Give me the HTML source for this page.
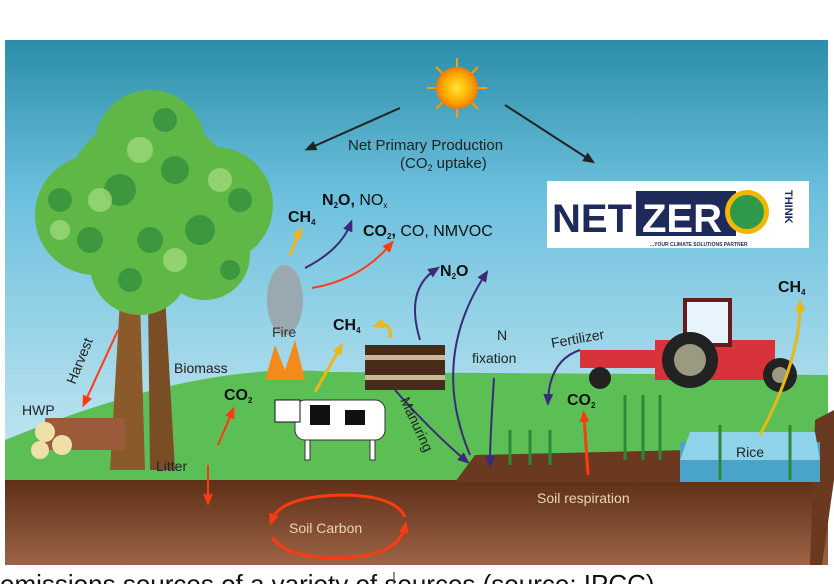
<!DOCTYPE html>
<html><head><meta charset="utf-8"><style>
html,body{margin:0;padding:0;background:#fff;width:834px;height:584px;overflow:hidden}
svg{display:block}
text{font-family:"Liberation Sans",sans-serif}
</style></head><body>
<svg width="834" height="584" viewBox="0 0 834 584" xmlns="http://www.w3.org/2000/svg">
<defs>
<linearGradient id="sky" x1="0" y1="0" x2="0" y2="1">
<stop offset="0" stop-color="#2b8ea8"/><stop offset="0.35" stop-color="#6cc0dd"/><stop offset="1" stop-color="#c9e9f2"/></linearGradient>
<linearGradient id="soil" x1="0" y1="0" x2="0" y2="1">
<stop offset="0" stop-color="#5e2f17"/><stop offset="1" stop-color="#9c6446"/></linearGradient>
<radialGradient id="sun"><stop offset="0" stop-color="#ffe23a"/><stop offset="0.6" stop-color="#ffb000"/><stop offset="1" stop-color="#f07a00"/></radialGradient>
<marker id="ak" markerUnits="userSpaceOnUse" markerWidth="12" markerHeight="12" refX="6" refY="6" orient="auto"><path d="M0,1 L12,6 L0,11 z" fill="#222"/></marker>
<marker id="ar" markerUnits="userSpaceOnUse" markerWidth="12" markerHeight="12" refX="6" refY="6" orient="auto"><path d="M0,1 L12,6 L0,11 z" fill="#ff3a12"/></marker>
<marker id="ay" markerUnits="userSpaceOnUse" markerWidth="12" markerHeight="12" refX="6" refY="6" orient="auto"><path d="M0,1 L12,6 L0,11 z" fill="#e8b818"/></marker>
<marker id="ap" markerUnits="userSpaceOnUse" markerWidth="12" markerHeight="12" refX="6" refY="6" orient="auto"><path d="M0,1 L12,6 L0,11 z" fill="#3b2a7a"/></marker>
</defs>
<rect x="5" y="40" width="823" height="440" fill="url(#sky)"/>
<path d="M5,440 Q200,360 330,372 L828,375 L828,482 L5,482 z" fill="#5cbf55"/>
<path d="M5,480 L828,480 L828,565 L5,565 z" fill="url(#soil)"/>
<path d="M815,420 L834,410 L834,480 L822,565 L810,565 z" fill="#6a3a20"/>
<path d="M455,482 L475,455 L690,450 L690,482 z" fill="#6b3820"/>
<path d="M680,442 L820,442 L820,482 L680,482 z" fill="#4aa3c8"/>
<path d="M690,432 L815,432 L820,460 L680,460 z" fill="#8fd3ea"/>
<g stroke="#ff9a00" stroke-width="2">
<line x1="457" y1="58" x2="457" y2="118"/><line x1="427" y1="88" x2="487" y2="88"/><line x1="436" y1="67" x2="478" y2="109"/><line x1="478" y1="67" x2="436" y2="109"/>
</g>
<circle cx="457" cy="88" r="21" fill="url(#sun)"/>
<path d="M120,300 L140,300 L145,470 L110,470 z" fill="#8a5a2b"/>
<path d="M148,295 L165,295 L175,470 L150,470 z" fill="#7a4e24"/>
<g fill="#5fb846">
<circle cx="150" cy="200" r="85"/><circle cx="95" cy="215" r="60"/><circle cx="215" cy="205" r="58"/><circle cx="150" cy="145" r="55"/><circle cx="140" cy="265" r="50"/><circle cx="205" cy="255" r="45"/>
</g>
<g fill="#2e8a3d" opacity="0.7">
<circle cx="120" cy="190" r="16"/><circle cx="175" cy="170" r="14"/><circle cx="200" cy="230" r="15"/><circle cx="150" cy="240" r="13"/><circle cx="90" cy="240" r="13"/><circle cx="240" cy="200" r="12"/><circle cx="165" cy="120" r="12"/><circle cx="130" cy="280" r="12"/><circle cx="60" cy="200" r="12"/><circle cx="230" cy="270" r="10"/>
</g>
<g fill="#9dd97a" opacity="0.8">
<circle cx="140" cy="150" r="13"/><circle cx="100" cy="200" r="12"/><circle cx="220" cy="180" r="12"/><circle cx="175" cy="260" r="12"/><circle cx="60" cy="230" r="10"/>
</g>
<rect x="45" y="418" width="80" height="32" fill="#9b5a3a"/>
<circle cx="45" cy="432" r="10" fill="#f0e0a8"/><circle cx="62" cy="445" r="10" fill="#f0e0a8"/><circle cx="40" cy="450" r="9" fill="#f0e0a8"/>
<ellipse cx="285" cy="300" rx="18" ry="35" fill="#9aa8b0"/>
<path d="M265,380 L275,345 L285,370 L295,340 L305,380 z" fill="#f28a1c"/>
<rect x="365" y="345" width="80" height="45" fill="#4a2a1a"/>
<rect x="365" y="355" width="80" height="5" fill="#c8b898"/><rect x="365" y="375" width="80" height="5" fill="#c8b898"/>
<rect x="295" y="400" width="90" height="40" rx="10" fill="#fff" stroke="#333"/>
<path d="M310,405 h20 v20 h-20z M345,410 h20 v15 h-20z" fill="#111"/>
<rect x="275" y="400" width="25" height="22" fill="#fff" stroke="#111"/>
<rect x="305" y="440" width="5" height="20" fill="#fff" stroke="#333"/><rect x="370" y="440" width="5" height="20" fill="#fff" stroke="#333"/>
<rect x="655" y="340" width="120" height="40" fill="#d8323b"/>
<rect x="685" y="300" width="45" height="45" fill="#e8f4fb" stroke="#6a1a1a" stroke-width="4"/>
<rect x="580" y="350" width="75" height="18" fill="#d8323b"/>
<circle cx="690" cy="360" r="28" fill="#222"/><circle cx="690" cy="360" r="16" fill="#9a9a80"/>
<circle cx="780" cy="375" r="17" fill="#222"/><circle cx="780" cy="375" r="8" fill="#9a9a80"/>
<circle cx="600" cy="378" r="11" fill="#222"/>
<g stroke="#2a8a3a" stroke-width="3">
<line x1="510" y1="430" x2="510" y2="465"/><line x1="530" y1="430" x2="530" y2="465"/><line x1="550" y1="430" x2="550" y2="465"/>
<line x1="625" y1="395" x2="625" y2="460"/><line x1="643" y1="395" x2="643" y2="460"/><line x1="660" y1="395" x2="660" y2="460"/>
<line x1="720" y1="425" x2="720" y2="480"/><line x1="790" y1="425" x2="790" y2="480"/>
</g>
<line x1="400" y1="108" x2="310" y2="148" stroke="#222" stroke-width="2" marker-end="url(#ak)"/>
<line x1="505" y1="105" x2="590" y2="160" stroke="#222" stroke-width="2" marker-end="url(#ak)"/>
<line x1="290" y1="255" x2="299" y2="232" stroke="#e8b818" stroke-width="3" marker-end="url(#ay)"/>
<path d="M305,268 Q340,250 350,225" fill="none" stroke="#3b2a7a" stroke-width="2" marker-end="url(#ap)"/>
<path d="M312,288 Q360,280 390,245" fill="none" stroke="#ff3a12" stroke-width="2" marker-end="url(#ar)"/>
<line x1="315" y1="392" x2="340" y2="348" stroke="#e8b818" stroke-width="3" marker-end="url(#ay)"/>
<path d="M390,338 Q392,322 378,325" fill="none" stroke="#e8b818" stroke-width="3" marker-end="url(#ay)"/>
<path d="M420,340 Q405,290 435,270" fill="none" stroke="#3b2a7a" stroke-width="2" marker-end="url(#ap)"/>
<path d="M470,455 Q430,360 485,275" fill="none" stroke="#3b2a7a" stroke-width="2" marker-end="url(#ap)"/>
<path d="M494,378 Q490,440 490,462" fill="none" stroke="#3b2a7a" stroke-width="2" marker-end="url(#ap)"/>
<path d="M395,390 Q430,430 465,460" fill="none" stroke="#3b2a7a" stroke-width="2" marker-end="url(#ap)"/>
<path d="M580,350 Q550,360 548,400" fill="none" stroke="#3b2a7a" stroke-width="2" marker-end="url(#ap)"/>
<line x1="588" y1="475" x2="584" y2="416" stroke="#ff3a12" stroke-width="3" marker-end="url(#ar)"/>
<path d="M760,435 Q800,360 800,305" fill="none" stroke="#e8b818" stroke-width="3" marker-end="url(#ay)"/>
<line x1="118" y1="330" x2="85" y2="402" stroke="#ff3a12" stroke-width="2" marker-end="url(#ar)"/>
<line x1="218" y1="445" x2="232" y2="412" stroke="#ff3a12" stroke-width="2" marker-end="url(#ar)"/>
<line x1="208" y1="465" x2="208" y2="500" stroke="#ff3a12" stroke-width="2" marker-end="url(#ar)"/>
<path d="M405,517 Q395,495 340,495 Q280,497 272,520" fill="none" stroke="#ff3a12" stroke-width="3" marker-end="url(#ar)"/>
<path d="M272,537 Q285,558 340,558 Q398,556 405,527" fill="none" stroke="#ff3a12" stroke-width="3" marker-end="url(#ar)"/>
<rect x="547" y="181" width="262" height="67" fill="#fff"/>
<text x="552" y="232" font-size="40" font-weight="bold" fill="#1e2a5a">NET</text>
<rect x="636" y="191" width="100" height="45" fill="#1e2a5a"/>
<text x="642" y="232" font-size="40" font-weight="bold" fill="#fff">ZER</text>
<circle cx="747" cy="212" r="22" fill="#f0b800"/><circle cx="747" cy="212" r="17" fill="#2e9a4a"/>
<text x="650" y="246" font-size="5" font-weight="bold" fill="#1e2a5a">...YOUR CLIMATE SOLUTIONS PARTNER</text>
<text transform="translate(785,190) rotate(90)" font-size="11" font-weight="bold" fill="#1e2a5a">THINK</text>
<g font-size="15" fill="#222">
<text x="348" y="150">Net Primary Production</text>
<text x="400" y="168">(CO<tspan font-size="9" dy="3">2</tspan><tspan dy="-3"> uptake)</tspan></text>
</g>
<g font-size="16" fill="#111">
<text x="322" y="205"><tspan font-weight="bold">N</tspan><tspan font-weight="bold" font-size="8" dy="3">2</tspan><tspan font-weight="bold" dy="-3">O,</tspan> NO<tspan font-size="8" dy="3">x</tspan></text>
<text x="363" y="236"><tspan font-weight="bold">CO</tspan><tspan font-weight="bold" font-size="8" dy="3">2</tspan><tspan font-weight="bold" dy="-3">,</tspan> CO, NMVOC</text>
</g>
<g font-weight="bold" font-size="16" fill="#111">
<text x="288" y="222">CH<tspan font-size="8" dy="3">4</tspan></text>
<text x="333" y="330">CH<tspan font-size="8" dy="3">4</tspan></text>
<text x="440" y="276">N<tspan font-size="8" dy="3">2</tspan><tspan dy="-3">O</tspan></text>
<text x="224" y="400">CO<tspan font-size="8" dy="3">2</tspan></text>
<text x="567" y="405">CO<tspan font-size="8" dy="3">2</tspan></text>
<text x="778" y="292">CH<tspan font-size="8" dy="3">4</tspan></text>
</g>
<g font-size="14" fill="#222">
<text x="272" y="337" fill="#333">Fire</text>
<text x="174" y="373">Biomass</text>
<text x="22" y="415">HWP</text>
<text x="156" y="471">Litter</text>
<text x="497" y="340">N</text>
<text x="472" y="363">fixation</text>
<text transform="translate(552,348) rotate(-10)">Fertilizer</text>
<text x="736" y="457">Rice</text>
<text transform="translate(75,385) rotate(-68)">Harvest</text>
<text transform="translate(400,400) rotate(65)">Manuring</text>
<text x="537" y="503" fill="#e8d8b0">Soil respiration</text>
<text x="289" y="533" fill="#e8d8b0">Soil Carbon</text>
</g>
<text x="0" y="593" font-size="26" fill="#111">  emissions  sources of a variety of sources (source: IPCC)</text>
<line x1="394" y1="572" x2="394" y2="584" stroke="#222"/>
</svg>
</body></html>
